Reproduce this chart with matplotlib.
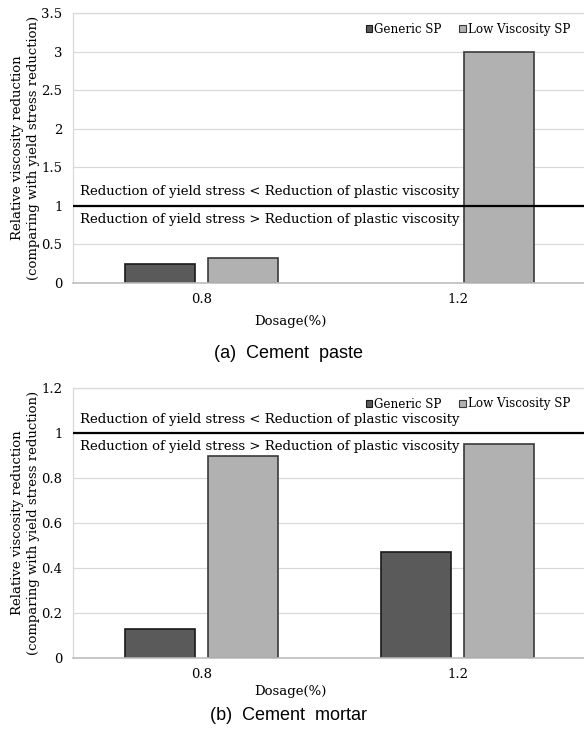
import matplotlib.pyplot as plt
import numpy as np
from matplotlib.patches import Patch

# dosage groups and relative viscosity reduction for each superplasticizer
dosages = ['0.8', '1.2']
series_names = ['Generic SP', 'Low Viscosity SP']
paste_generic = [0.24, np.nan]
paste_lowvisc = [0.32, 3.0]
mortar_generic = [0.13, 0.47]
mortar_lowvisc = [0.90, 0.95]

paste_ticks = [0, 0.5, 1, 1.5, 2, 2.5, 3, 3.5]
mortar_ticks = [0, 0.2, 0.4, 0.6, 0.8, 1, 1.2]

text_above = 'Reduction of yield stress < Reduction of plastic viscosity'
text_below = 'Reduction of yield stress > Reduction of plastic viscosity'
ylabel = 'Relative viscosity reduction\n(comparing with yield stress reduction)'

SERIF = ['DejaVu Serif']
SANS = ['Liberation Sans Narrow', 'Liberation Sans', 'DejaVu Sans']
FS = 9.5
colors = ['#5a5a5a', '#b1b1b1']
edges = ['#1a1a1a', '#3a3a3a']

W, H = 584, 745
fig = plt.figure(figsize=(W / 100, H / 100), dpi=100)


def draw_panel(top_px, generic, lowvisc, ticks, caption, dos_y, cap_y):
    left = 73 / W
    width = 513 / W
    height = 270 / H
    bottom = (H - top_px - 270) / H
    ax = fig.add_axes([left, bottom, width, height])

    x = np.arange(len(dosages))
    bw = 0.273
    off = 0.161
    ax.bar(x - off, generic, bw, color=colors[0], edgecolor=edges[0],
           linewidth=1.2, zorder=2)
    ax.bar(x + off, lowvisc, bw, color=colors[1], edgecolor=edges[1],
           linewidth=1.2, zorder=2)

    ax.set_xlim(-0.5, 1.5)
    ax.set_ylim(ticks[0], ticks[-1])
    ax.set_yticks(ticks)
    ax.set_yticklabels(['%g' % t for t in ticks], family=SERIF, fontsize=FS)
    ax.set_xticks(x)
    ax.set_xticklabels(dosages, family=SERIF, fontsize=FS)
    ax.tick_params(length=0)
    ax.tick_params(axis='y', pad=7.5)
    ax.tick_params(axis='x', pad=7)

    ax.grid(axis='y', color='#d9d9d9', linewidth=0.9, zorder=0)
    ax.set_axisbelow(True)
    for s in ['left', 'top', 'right']:
        ax.spines[s].set_color('#d9d9d9')
        ax.spines[s].set_linewidth(0.9)
    ax.spines['bottom'].set_color('#bdbdbd')
    ax.spines['bottom'].set_linewidth(1.2)

    # threshold line where both reductions are equal
    ax.axhline(1, color='black', linewidth=1.6, zorder=3)
    ax.annotate(text_above, xy=(0.0136, 1), xycoords=('axes fraction', 'data'),
                xytext=(0, 10), textcoords='offset points', va='center',
                ha='left', family=SERIF, fontsize=FS, zorder=4)
    ax.annotate(text_below, xy=(0.0136, 1), xycoords=('axes fraction', 'data'),
                xytext=(0, -10), textcoords='offset points', va='center',
                ha='left', family=SERIF, fontsize=FS, zorder=4)

    handles = [Patch(facecolor=colors[0], edgecolor=edges[0], linewidth=0.8),
               Patch(facecolor=colors[1], edgecolor=edges[1], linewidth=0.8)]
    leg_y = 1 - 16 / 270
    ax.legend(handles, series_names, loc='center right',
              bbox_to_anchor=(0.969, leg_y), ncol=2, frameon=False,
              prop={'family': SERIF, 'size': 8.6}, handlelength=0.55,
              handleheight=0.55, handletextpad=0.15, columnspacing=1.5,
              borderpad=0, borderaxespad=0)

    fig.text(26 / W, 1 - (top_px + 135) / H, ylabel, rotation=90,
             ha='center', va='center', multialignment='center',
             family=SERIF, fontsize=FS, linespacing=1.3)
    fig.text(290 / W, 1 - dos_y / H, 'Dosage(%)', ha='center', va='center',
             family=SERIF, fontsize=FS)
    fig.text(288 / W, 1 - cap_y / H, caption, ha='center', va='center',
             family=SANS, fontsize=13)
    return ax


draw_panel(13, paste_generic, paste_lowvisc, paste_ticks,
           '(a)  Cement  paste', 321, 354)
draw_panel(388, mortar_generic, mortar_lowvisc, mortar_ticks,
           '(b)  Cement  mortar', 691, 716)

fig.savefig('out.png', dpi=100)
